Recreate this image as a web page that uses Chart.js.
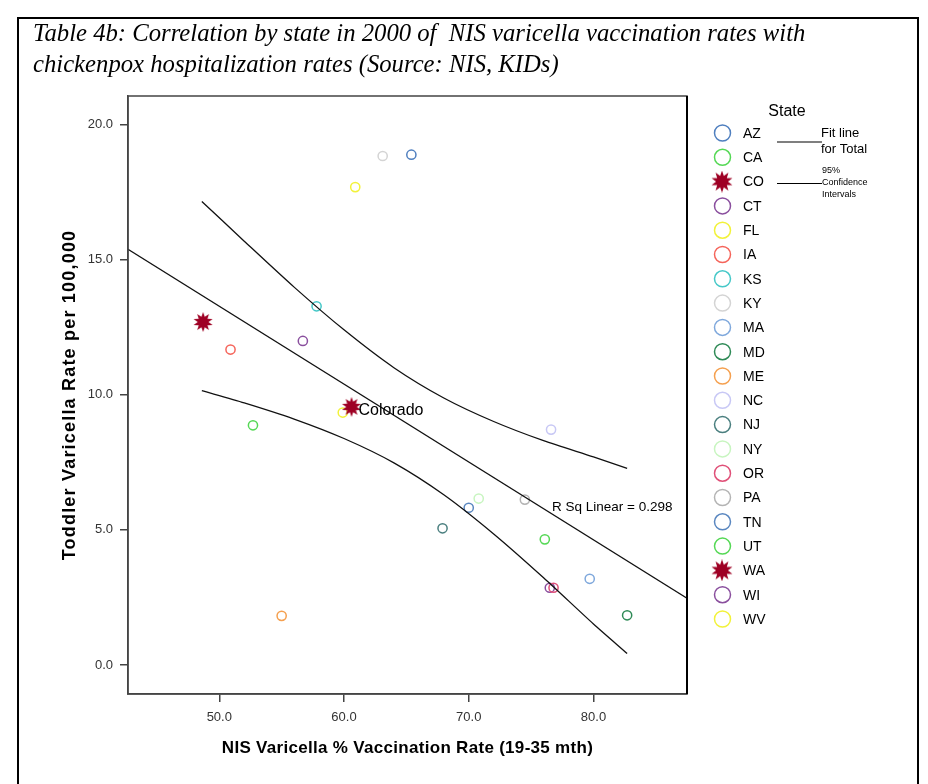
<!DOCTYPE html>
<html>
<head>
<meta charset="utf-8">
<script src="https://cdn.jsdelivr.net/npm/chart.js@4"></script>
<style>
  html, body { margin: 0; padding: 0; background: #fff; }
  #wrap { width: 928px; height: 784px; }
</style>
</head>
<body>
<div id="wrap"><canvas id="chart" width="928" height="784"></canvas></div>
<script>
// data
var states = ['AZ', 'CA', 'CO', 'CT', 'FL', 'IA', 'KS', 'KY', 'MA', 'MD', 'ME', 'NC', 'NJ', 'NY', 'OR', 'PA', 'TN', 'UT', 'WA', 'WI', 'WV'];
var vaccRate = [65.4, 52.7, 60.6, 56.7, 60.9, 50.9, 57.8, 63.1, 79.7, 82.7, 55.0, 76.6, 67.9, 70.8, 76.8, 74.5, 70.0, 76.1, 48.7, 76.5, 59.9];
var hospRate = [18.88, 8.87, 9.55, 11.99, 17.68, 11.67, 13.27, 18.83, 3.19, 1.84, 1.82, 8.71, 5.06, 6.16, 2.86, 6.12, 5.82, 4.65, 12.69, 2.86, 9.34];
var stateColors = ['#4f7fbf', '#55d855', '#9e0024', '#8a4f9e', '#f2f23a', '#f5645a', '#46c8c8', '#d4d4d4', '#7fa8dc', '#2e8a56', '#f5a04f', '#c8c8f5', '#4a7f7f', '#c8f5c0', '#e05078', '#b4b4b4', '#5a87c0', '#55d855', '#9e0024', '#8a4f9e', '#f2f23a'];
var starStates = ['CO', 'WA'];

var fitX = [42.68, 87.5];
var fitY = [15.38, 2.47];
var ciX = [48.6, 52, 56, 60, 64, 68, 72, 76, 80, 82.7];
var ciUpper = [17.15, 15.68, 13.98, 12.40, 11.0, 9.88, 9.01, 8.3, 7.7, 7.28];
var ciLower = [10.15, 9.70, 9.10, 8.38, 7.48, 6.30, 4.85, 3.23, 1.52, 0.43];

var xTicks = [50, 60, 70, 80];
var yTicks = [0, 5, 10, 15, 20];

var titleLines = ['Table 4b: Correlation by state in 2000 of  NIS varicella vaccination rates with',
                  'chickenpox hospitalization rates (Source: NIS, KIDs)'];
var xTitle = 'NIS Varicella % Vaccination Rate (19-35 mth)';
var yTitle = 'Toddler Varicella Rate per 100,000';
var rsqText = 'R Sq Linear = 0.298';
var labelText = 'Colorado';

// burst marker used for CO / WA
function makeStar(size, color) {
    var c = document.createElement('canvas');
    c.width = size; c.height = size;
    var g = c.getContext('2d');
    var cx = size / 2, ro = size / 2, ri = size * 0.27;
    var n = 10;
    g.beginPath();
    for (var i = 0; i < n * 2; i++) {
        var r = i % 2 === 0 ? ro : ri;
        var a = Math.PI * i / n - Math.PI / 2;
        g.lineTo(cx + r * Math.cos(a), cx + r * Math.sin(a));
    }
    g.closePath();
    g.fillStyle = color;
    g.fill();
    return c;
}
var starPlot = makeStar(20, '#9e0024');
var starLegend = makeStar(22, '#9e0024');

function xy(xs, ys) {
    return xs.map(function (x, i) { return { x: x, y: ys[i] }; });
}

var datasets = [];
var lineStyle = { type: 'line', borderColor: '#111', borderWidth: 1.3, pointRadius: 0, fill: false, tension: 0.25 };
datasets.push(Object.assign({ label: 'Fit', data: xy(fitX, fitY) }, lineStyle, { tension: 0 }));
datasets.push(Object.assign({ label: 'Upper', data: xy(ciX, ciUpper) }, lineStyle));
datasets.push(Object.assign({ label: 'Lower', data: xy(ciX, ciLower) }, lineStyle));

states.forEach(function (s, i) {
    var isStar = starStates.indexOf(s) >= 0;
    datasets.push({
        type: 'scatter',
        label: s,
        data: [{ x: vaccRate[i], y: hospRate[i] }],
        pointStyle: isStar ? starPlot : 'circle',
        pointRadius: 4.6,
        borderWidth: 1.5,
        borderColor: stateColors[i],
        backgroundColor: 'rgba(255,255,255,0)'
    });
});

var decor = {
    id: 'decor',
    beforeDraw: function (chart) {
        var ctx = chart.ctx;
        ctx.save();
        ctx.fillStyle = '#fff';
        ctx.fillRect(0, 0, chart.width, chart.height);
        ctx.restore();
    },
    afterDraw: function (chart) {
        var ctx = chart.ctx;
        var a = chart.chartArea;
        var xs = chart.scales.x, ys = chart.scales.y;
        ctx.save();

        // outer frame
        ctx.strokeStyle = '#000';
        ctx.lineWidth = 2;
        ctx.strokeRect(18, 18, 900, 800);

        // plot frame
        ctx.strokeStyle = '#444';
        ctx.lineWidth = 1.5;
        ctx.strokeRect(a.left, a.top, a.right - a.left, a.bottom - a.top);
        ctx.strokeStyle = '#000';
        ctx.lineWidth = 2;
        ctx.beginPath();
        ctx.moveTo(a.right, a.top);
        ctx.lineTo(a.right, a.bottom);
        ctx.stroke();

        // title
        ctx.fillStyle = '#000';
        ctx.font = 'italic 24.7px "Liberation Serif"';
        ctx.textBaseline = 'alphabetic';
        ctx.textAlign = 'left';
        ctx.fillText(titleLines[0], 33, 41);
        ctx.fillText(titleLines[1], 33, 72);

        // axis titles
        ctx.textAlign = 'center';
        ctx.textBaseline = 'middle';
        ctx.font = 'bold 17px "Liberation Sans"';
        ctx.letterSpacing = '0.3px';
        ctx.fillText(xTitle, (a.left + a.right) / 2, 748);
        ctx.save();
        ctx.translate(70, (a.top + a.bottom) / 2);
        ctx.rotate(-Math.PI / 2);
        ctx.font = 'bold 18px "Liberation Sans"';
        ctx.letterSpacing = '1.2px';
        ctx.fillText(yTitle, 0, 0);
        ctx.restore();
        ctx.letterSpacing = '0px';

        // point labels
        ctx.textAlign = 'left';
        ctx.font = '16px "Liberation Sans"';
        var ci = states.indexOf('CO');
        ctx.fillText(labelText, xs.getPixelForValue(vaccRate[ci]) + 7, ys.getPixelForValue(hospRate[ci]) + 4);
        ctx.font = '13.5px "Liberation Sans"';
        ctx.fillText(rsqText, 552, 507);

        // legend
        ctx.font = '16px "Liberation Sans"';
        ctx.textAlign = 'center';
        ctx.fillText('State', 787, 112);
        ctx.font = '14px "Liberation Sans"';
        ctx.textAlign = 'left';
        states.forEach(function (s, i) {
            var y = 133 + i * 24.3;
            if (starStates.indexOf(s) >= 0) {
                ctx.drawImage(starLegend, 722 - 11, y - 11);
            } else {
                ctx.beginPath();
                ctx.arc(722.5, y, 8, 0, Math.PI * 2);
                ctx.strokeStyle = stateColors[i];
                ctx.lineWidth = 1.5;
                ctx.stroke();
            }
            ctx.fillStyle = '#000';
            ctx.fillText(s, 743, y + 1);
        });

        ctx.strokeStyle = '#000';
        ctx.lineWidth = 1.2;
        ctx.beginPath();
        ctx.moveTo(777, 142); ctx.lineTo(822, 142);
        ctx.moveTo(777, 183.5); ctx.lineTo(822, 183.5);
        ctx.stroke();
        ctx.font = '13px "Liberation Sans"';
        ctx.fillText('Fit line', 821, 133);
        ctx.fillText('for Total', 821, 149.5);
        ctx.font = '9px "Liberation Sans"';
        ctx.fillText('95%', 822, 171);
        ctx.fillText('Confidence', 822, 183);
        ctx.fillText('Intervals', 822, 195);
        ctx.restore();
    }
};

var ctx = document.getElementById('chart').getContext('2d');
var chart = new Chart(ctx, {
    data: { datasets: datasets },
    options: {
        responsive: false,
        animation: false,
        layout: { padding: { left: 48, top: 96, right: 241, bottom: 20 } },
        plugins: {
            legend: { display: false },
            tooltip: { enabled: false }
        },
        scales: {
            x: {
                type: 'linear',
                min: 42.68,
                max: 87.5,
                afterBuildTicks: function (s) { s.ticks = xTicks.map(function (v) { return { value: v }; }); },
                afterFit: function (s) { s.height = 70; },
                grid: { drawOnChartArea: false, drawTicks: true, tickLength: 8, color: '#444', lineWidth: 1.5 },
                border: { display: true, color: '#444', width: 1.5 },
                ticks: {
                    color: '#333', padding: 8,
                    font: { family: 'Liberation Sans', size: 13 },
                    callback: function (v) { return v.toFixed(1); }
                }
            },
            y: {
                type: 'linear',
                min: -1.07,
                max: 21.05,
                afterBuildTicks: function (s) { s.ticks = yTicks.map(function (v) { return { value: v }; }); },
                afterFit: function (s) { s.width = 80; },
                grid: { drawOnChartArea: false, drawTicks: true, tickLength: 8, color: '#444', lineWidth: 1.5 },
                border: { display: true, color: '#444', width: 1.5 },
                ticks: {
                    color: '#333', padding: 7,
                    font: { family: 'Liberation Sans', size: 13 },
                    callback: function (v) { return v.toFixed(1); }
                }
            }
        }
    },
    plugins: [decor]
});
</script>
</body>
</html>
